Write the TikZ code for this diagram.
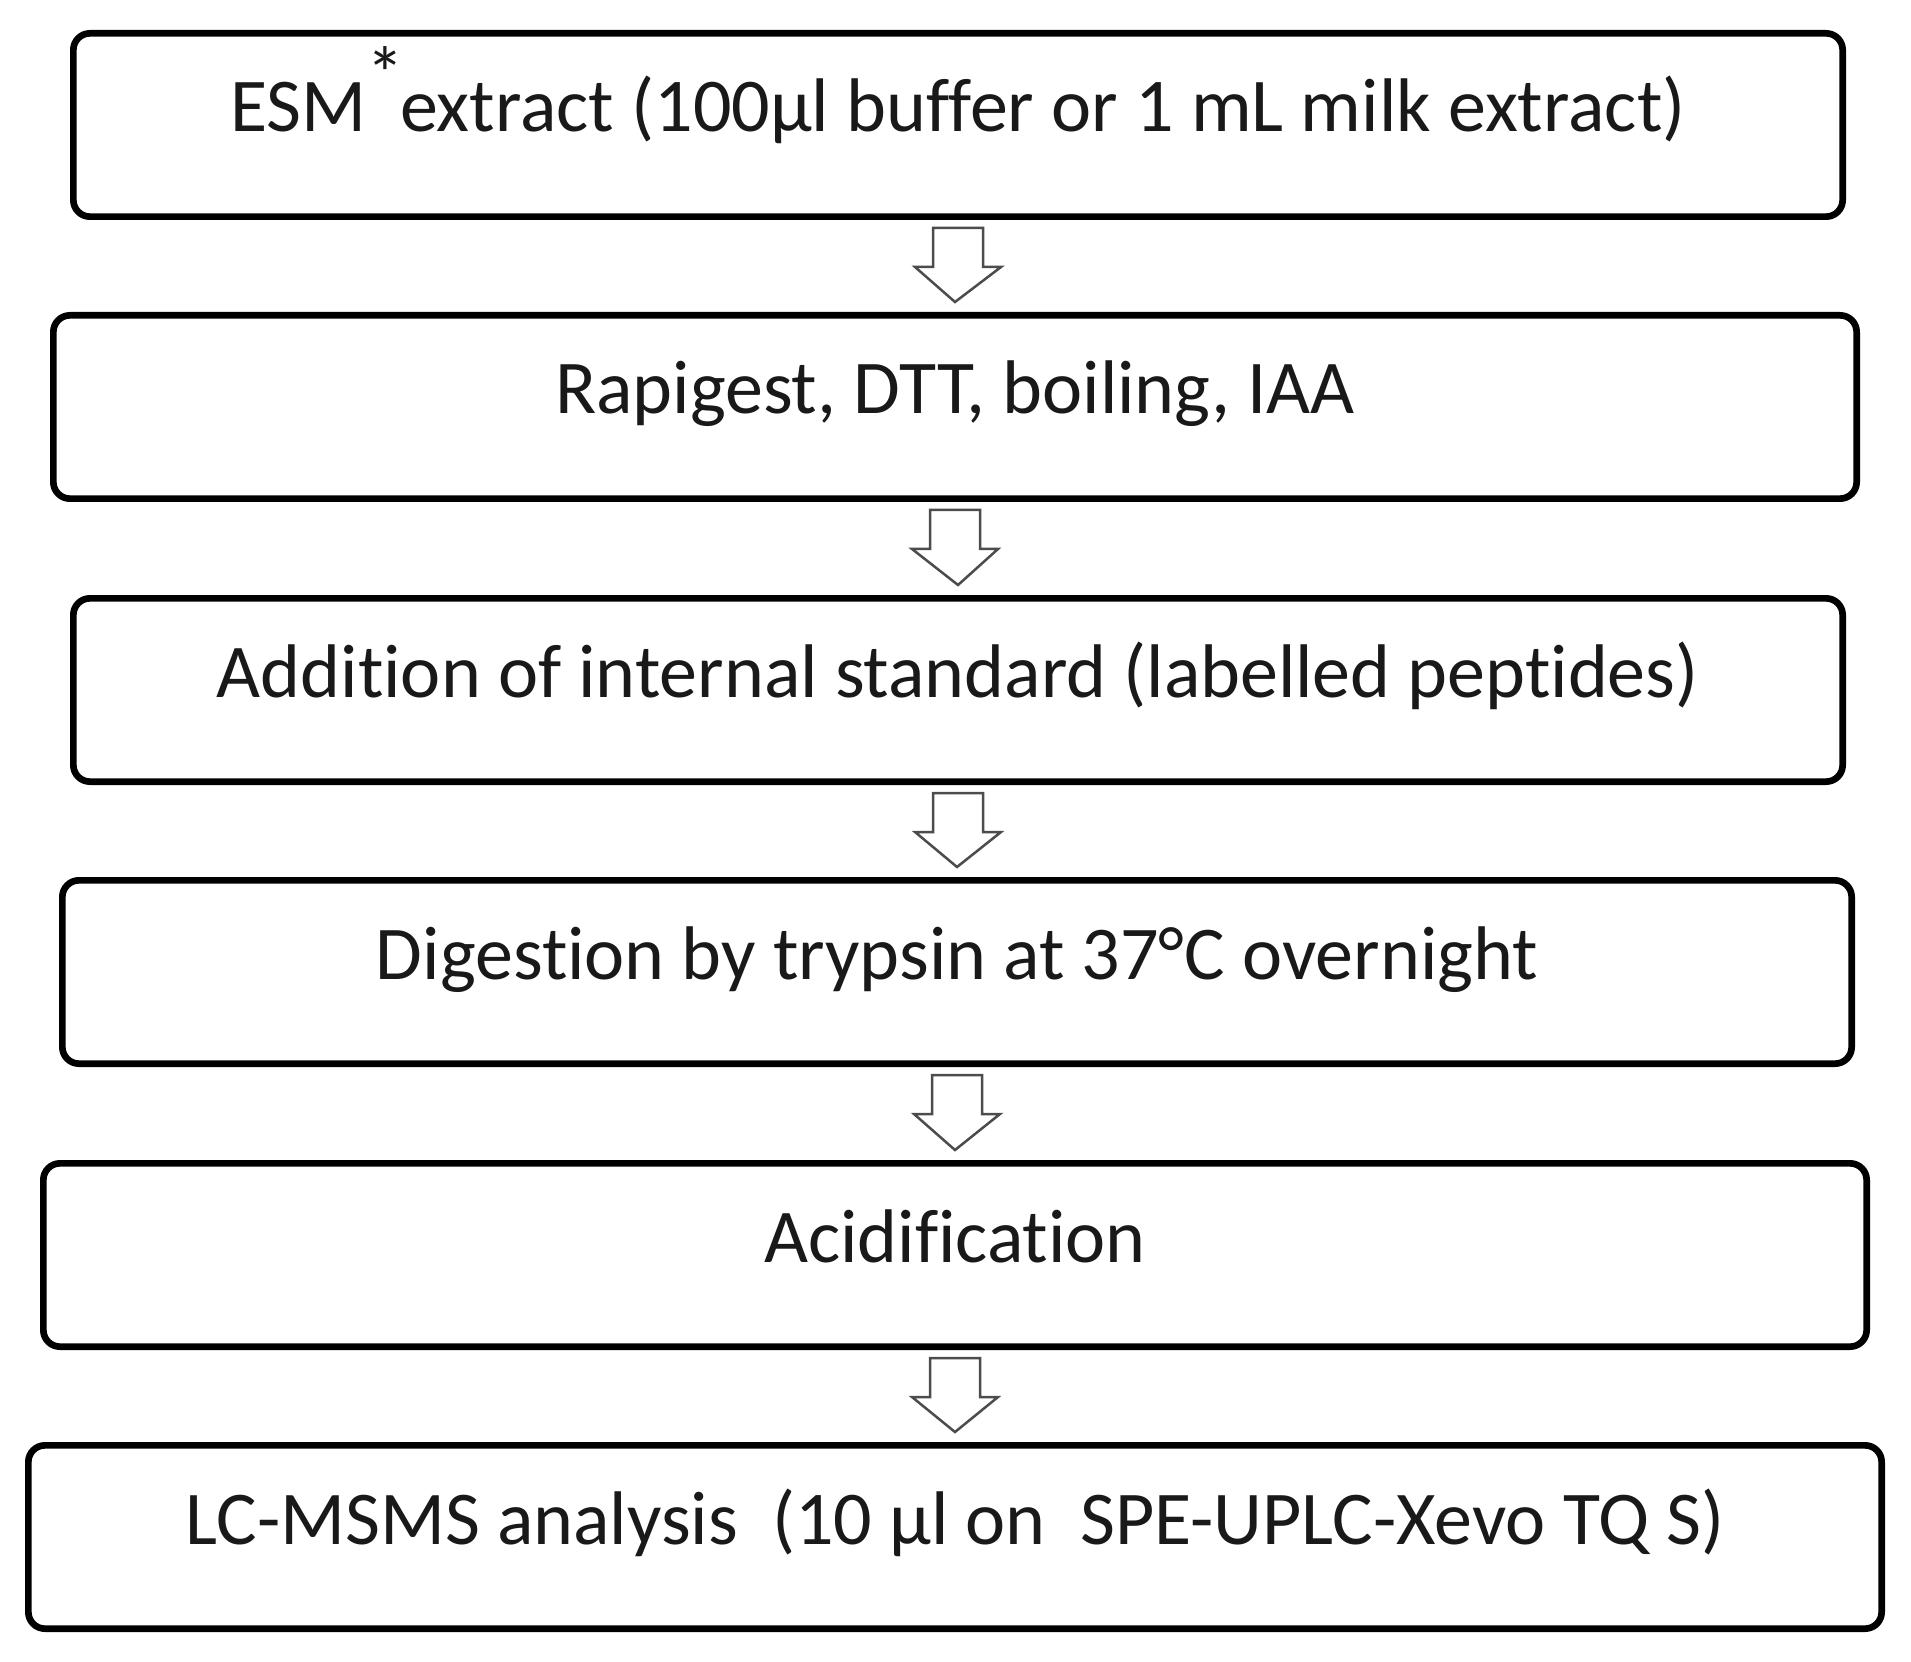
\documentclass[tikz,border=0pt]{standalone}
\usepackage{fontspec}
\setmainfont[Ligatures={NoCommon,NoRequired,NoContextual},Contextuals=NoAlternate]{Carlito}
\usepackage{tikz}
\usetikzlibrary{calc}

\begin{document}
\begin{tikzpicture}[x=0.3pt, y=-0.3pt,
  stepbox/.style={draw, line width=2pt, rounded corners=5pt, minimum height=55pt,
    inner sep=0pt, text height=16pt, text depth=11.8pt,
    font=\fontsize{22.8}{27}\selectfont, text=black!90},
  hollow/.style={draw=black!70, line width=0.75pt, fill=white, line join=miter}]
             \useasboundingbox (0,0) rectangle (1911,1661);

             % t\kern0pt i keeps the t and i apart
             \node[stepbox, minimum width=530.8pt] (esm) at (958, 125)
                {ESM\raisebox{.42em}{*}\kern-.06em extract (100µl buffer or 1 mL milk extract)};
             \node[stepbox, minimum width=541pt] (rapi) at (955, 407)
                {Rapigest, DTT, boiling, IAA};
             \node[stepbox, minimum width=530.8pt] (addis) at (958, 690)
                {Addit\kern0pt ion of internal standard (labelled peptides)};
             \node[stepbox, minimum width=536.8pt] (digest) at (957, 972)
                {Digest\kern0pt ion by trypsin at 37°C overnight};
             \node[stepbox, minimum width=547pt] (acid) at (955, 1255)
                {Acidif\kern0pt icat\kern0pt ion};
             \node[stepbox, minimum width=556pt] (lcms) at (955, 1537)
                {LC-MSMS analysis\ \ (10 µl on\ \ SPE-UPLC-Xevo TQ S)};

             \foreach \a/\b in {esm/rapi, rapi/addis, addis/digest, digest/acid, acid/lcms}
                \draw[hollow] ($(\a.south)+(-25,8)$) -- ++(50,0) -- ++(0,39) -- ++(18,0)
                   -- ($(\b.north)+(0,-10)$) -- ($(\a.south)+(-43,47)$) -- ++(18,0) -- cycle;
             \end{tikzpicture}
\end{document}
